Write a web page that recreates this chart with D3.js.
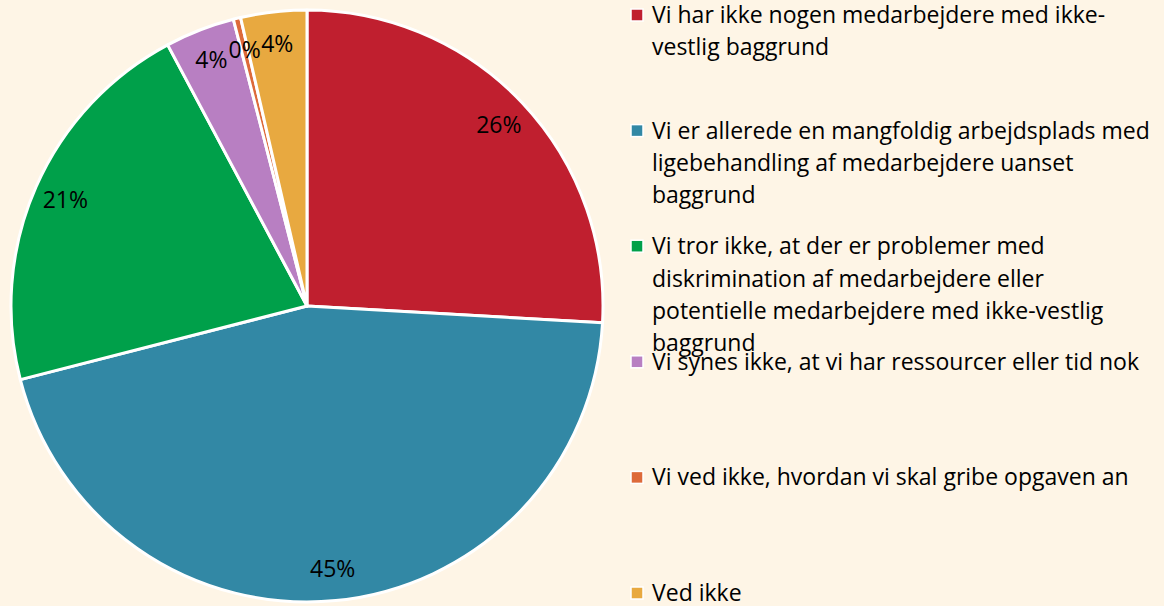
<!DOCTYPE html>
<html>
<head>
<meta charset="utf-8">
<script src="https://cdn.jsdelivr.net/npm/d3@7"></script>
<style>
  html, body { margin: 0; padding: 0; background: #fef5e6; }
  svg { display: block; }
  text { font-family: "Open Sans", "Noto Sans", sans-serif; fill: #000; }
</style>
</head>
<body>
<svg id="chart"></svg>
<script>
// Answer categories (legend order = slice order, clockwise from 12 o'clock)
const categories = [
  "Vi har ikke nogen medarbejdere med ikke-vestlig baggrund",
  "Vi er allerede en mangfoldig arbejdsplads med ligebehandling af medarbejdere uanset baggrund",
  "Vi tror ikke, at der er problemer med diskrimination af medarbejdere eller potentielle medarbejdere med ikke-vestlig baggrund",
  "Vi synes ikke, at vi har ressourcer eller tid nok",
  "Vi ved ikke, hvordan vi skal gribe opgaven an",
  "Ved ikke"
];
// legend lines as wrapped in the original
const legendLines = [
  ["Vi har ikke nogen medarbejdere med ikke-", "vestlig baggrund"],
  ["Vi er allerede en mangfoldig arbejdsplads med", "ligebehandling af medarbejdere uanset", "baggrund"],
  ["Vi tror ikke, at der er problemer med", "diskrimination af medarbejdere eller", "potentielle medarbejdere med ikke-vestlig", "baggrund"],
  ["Vi synes ikke, at vi har ressourcer eller tid nok"],
  ["Vi ved ikke, hvordan vi skal gribe opgaven an"],
  ["Ved ikke"]
];
const values = [25.9, 45.1, 21.2, 3.8, 0.4, 3.6]; // percent
const colors = ["#c01f2f", "#3288a5", "#00a04a", "#b87fc2", "#dd6a3a", "#e8a940"];

const width = 1164;
const height = 606;
const cx = 307, cy = 306, radius = 296;

const svg = d3.select("#chart").attr("width", width).attr("height", height);

svg.append("rect")
  .attr("width", width)
  .attr("height", height)
  .attr("fill", "#fef5e6");

const data = categories.map((c, i) => ({ name: c, value: values[i], color: colors[i] }));

const pie = d3.pie().sort(null).value((d) => d.value);
const arcs = pie(data);

const arc = d3.arc().innerRadius(0).outerRadius(radius);
const labelArc = d3.arc().innerRadius(264).outerRadius(264);

const g = svg.append("g").attr("transform", `translate(${cx}, ${cy})`);

g.selectAll(".slice")
  .data(arcs)
  .enter()
  .append("path")
  .attr("class", "slice")
  .attr("d", arc)
  .attr("fill", (d) => d.data.color)
  .attr("stroke", "#fff")
  .attr("stroke-width", 3)
  .attr("stroke-linejoin", "round");

g.selectAll(".label")
  .data(arcs)
  .enter()
  .append("text")
  .attr("class", "label")
  .attr("transform", (d) => `translate(${labelArc.centroid(d)})`)
  .attr("text-anchor", "middle")
  .attr("dy", "0.35em")
  .style("font-size", "23px")
  .text((d) => `${Math.round(d.data.value)}%`);

// Legend
const legendX = 637;
const legendTop = 15;
const itemStep = 115.6;
const lineStep = 32.3;

const legend = svg.append("g").attr("class", "legend");

const items = legend.selectAll(".item")
  .data(data)
  .enter()
  .append("g")
  .attr("class", "item")
  .attr("transform", (d, i) => `translate(${legendX}, ${legendTop + i * itemStep})`);

items.append("rect")
  .attr("x", -6)
  .attr("y", -6)
  .attr("width", 12)
  .attr("height", 12)
  .attr("fill", (d) => d.color)
  .attr("stroke", "#fff")
  .attr("stroke-width", 1.5);

items.each(function (d, i) {
  d3.select(this)
    .selectAll("text")
    .data(legendLines[i])
    .enter()
    .append("text")
    .attr("x", 15)
    .attr("y", (t, j) => j * lineStep)
    .attr("dy", "0.35em")
    .style("font-size", "23px")
    .text((t) => t);
});
</script>
</body>
</html>
